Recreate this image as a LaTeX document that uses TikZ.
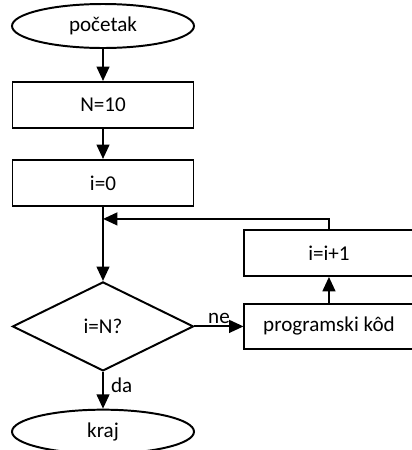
\documentclass[tikz,border=0pt]{standalone}
\usepackage{fontspec}
\setmainfont{Carlito}
\usetikzlibrary{arrows.meta,positioning,shapes.geometric}

\begin{document}
\begin{tikzpicture}[node distance=0.8cm and 1.2cm,
      every node/.style={font=\fontsize{15}{17}\selectfont},
      terminal/.style={draw,ellipse,line width=1.4pt,minimum width=4.55cm,minimum height=1.1cm,inner sep=0pt},
      stepbox/.style={draw,rectangle,line width=1.4pt,minimum width=4.525cm,minimum height=1.15cm,inner sep=0pt},
      decision/.style={draw,diamond,line width=1.4pt,minimum width=4.525cm,minimum height=2.225cm,inner sep=0pt},
      arr/.style={-{Triangle[length=3.6mm,width=3.2mm]},line width=1.4pt}]
      \useasboundingbox (0,0) rectangle (10.3,-11.25);
      \node[terminal] (start) at (2.575,-0.65) {početak};
      \node[stepbox,below=0.8cm of start] (setn) {N=10};
      \node[stepbox,below=0.75cm of setn] (init) {i=0};
      \node[decision,below=1.85cm of init] (test) {i=N?};
      \node[terminal,below=0.92cm of test] (stop) {kraj};
      \node[stepbox,minimum width=4.225cm,minimum height=1.125cm,right=1.225cm of test] (code) {programski kôd};
      \node[stepbox,minimum width=4.225cm,above=0.65cm of code] (incr) {i=i+1};
      \coordinate[below=0.3cm of init.south] (join);
      \draw[arr] (start) -- (setn);
      \draw[arr] (setn) -- (init);
      \draw[line width=1.4pt] (init) -- (join);
      \draw[arr] (join) -- (test);
      \draw[arr] (test) -- node[above,inner sep=1pt] (no) {ne} (code);
      \draw[arr] (code) -- (incr);
      \draw[arr] (incr) |- (join);
      \draw[arr] (test) -- node[right,pos=0.35,inner sep=5pt] (yes) {da} (stop);
    \end{tikzpicture}
\end{document}
